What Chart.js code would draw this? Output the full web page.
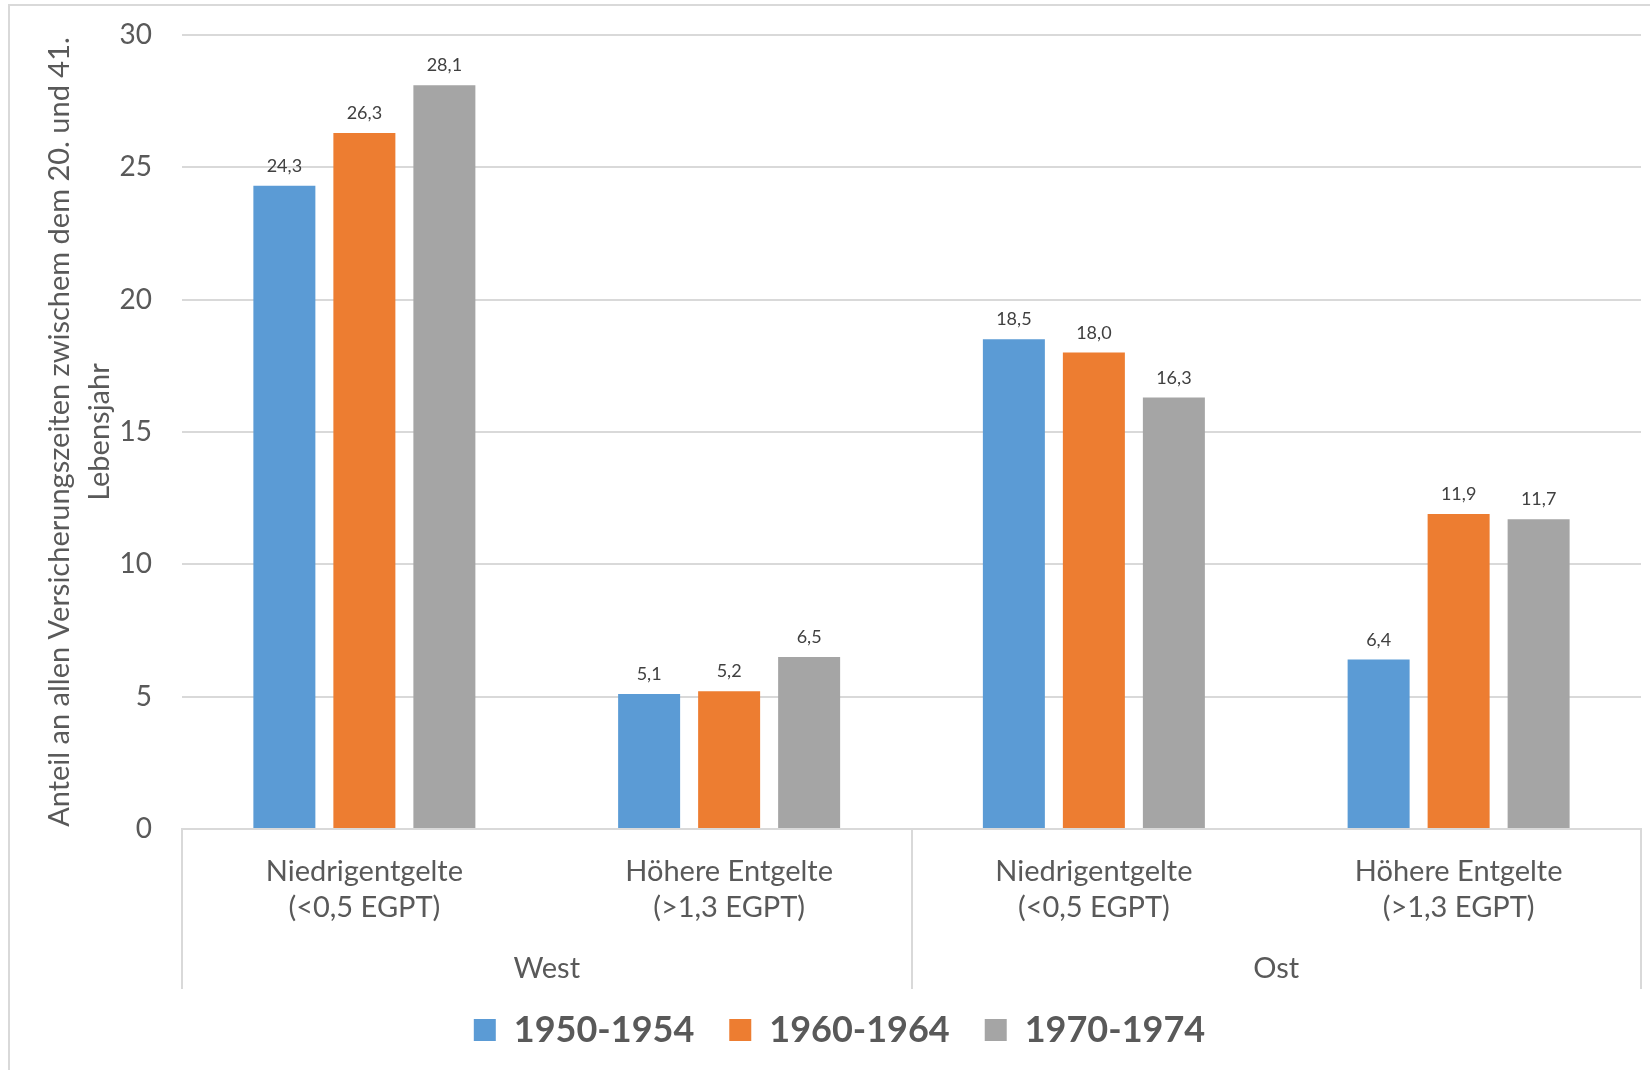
<!DOCTYPE html>
<html lang="de">
<head>
<meta charset="utf-8">
<title>Anteil an allen Versicherungszeiten</title>
<script src="https://cdn.jsdelivr.net/npm/chart.js@4/dist/chart.umd.min.js"></script>
<style>
  html, body { margin: 0; padding: 0; background: #ffffff; }
  #wrap { width: 1650px; height: 1070px; position: relative; }
</style>
</head>
<body>
<div id="wrap"><canvas id="chart" width="1650" height="1070"></canvas></div>
<script>
// Categories (inner level) and regions (outer level)
const categories = [
  ['Niedrigentgelte', '(<0,5 EGPT)'],
  ['Höhere Entgelte', '(>1,3 EGPT)'],
  ['Niedrigentgelte', '(<0,5 EGPT)'],
  ['Höhere Entgelte', '(>1,3 EGPT)']
];
const regions = ['West', 'Ost'];
// index range of categories belonging to each region
const regionSpans = [[0, 1], [2, 3]];

// Birth cohorts
const cohortLabels = ['1950-1954', '1960-1964', '1970-1974'];
const values1950 = [24.3, 5.1, 18.5, 6.4];
const values1960 = [26.3, 5.2, 18.0, 11.9];
const values1970 = [28.1, 6.5, 16.3, 11.7];

const yTicks = [0, 5, 10, 15, 20, 25, 30];
const yTitle = ['Anteil an allen Versicherungszeiten zwischem dem 20. und 41.', 'Lebensjahr'];

const colors = ['#5B9BD5', '#ED7D31', '#A5A5A5'];
const textGrey = '#595959';
const lineGrey = '#D9D9D9';
const FONT = 'Lato, "Open Sans", sans-serif';

// Thin frame around the whole figure
const framePlugin = {
  id: 'frame',
  beforeDraw(chart) {
    const ctx = chart.ctx;
    ctx.save();
    ctx.fillStyle = '#ffffff';
    ctx.fillRect(0, 0, chart.width, chart.height);
    ctx.strokeStyle = lineGrey;
    ctx.lineWidth = 2;
    ctx.strokeRect(9, 5, chart.width + 20, chart.height + 20);
    ctx.restore();
  }
};

// Second axis level: dividers between the regions and the region names
const regionAxisPlugin = {
  id: 'regionAxis',
  afterDraw(chart) {
    const x = chart.scales.x;
    const ctx = chart.ctx;
    const top = chart.chartArea.bottom;
    const bottom = top + 160;
    ctx.save();
    ctx.strokeStyle = lineGrey;
    ctx.lineWidth = 2;
    const edges = [regionSpans[0][0] - 0.5].concat(regionSpans.map(s => s[1] + 0.5));
    edges.forEach(v => {
      const px = Math.round(x.getPixelForValue(v));
      ctx.beginPath();
      ctx.moveTo(px, top);
      ctx.lineTo(px, bottom);
      ctx.stroke();
    });
    ctx.fillStyle = textGrey;
    ctx.font = '29px ' + FONT;
    ctx.textAlign = 'center';
    ctx.textBaseline = 'middle';
    regions.forEach((name, r) => {
      const [a, b] = regionSpans[r];
      const cx = (x.getPixelForValue(a - 0.5) + x.getPixelForValue(b + 0.5)) / 2;
      ctx.fillText(name, cx, top + 140);
    });
    ctx.restore();
  }
};

// Value labels above each bar, German decimal comma
const valueLabelPlugin = {
  id: 'valueLabels',
  afterDatasetsDraw(chart) {
    const ctx = chart.ctx;
    ctx.save();
    ctx.font = '18px ' + FONT;
    ctx.fillStyle = '#404040';
    ctx.textAlign = 'center';
    ctx.textBaseline = 'alphabetic';
    chart.data.datasets.forEach((ds, di) => {
      const meta = chart.getDatasetMeta(di);
      meta.data.forEach((bar, i) => {
        const txt = ds.data[i].toFixed(1).replace('.', ',');
        ctx.fillText(txt, bar.x, bar.y - 14);
      });
    });
    ctx.restore();
  }
};

new Chart(document.getElementById('chart'), {
  type: 'bar',
  data: {
    labels: categories,
    datasets: [
      { label: cohortLabels[0], data: values1950, backgroundColor: colors[0] },
      { label: cohortLabels[1], data: values1960, backgroundColor: colors[1] },
      { label: cohortLabels[2], data: values1970, backgroundColor: colors[2] }
    ]
  },
  options: {
    responsive: false,
    animation: false,
    devicePixelRatio: 1,
    categoryPercentage: 0.658,
    barPercentage: 0.775,
    layout: { padding: { top: 35, right: 9, bottom: 12, left: 38 } },
    plugins: {
      legend: {
        position: 'bottom',
        labels: {
          color: textGrey,
          font: { family: FONT, size: 36, weight: 'bold' },
          boxWidth: 22,
          boxHeight: 22,
          padding: 35
        }
      },
      tooltip: { enabled: false }
    },
    scales: {
      x: {
        type: 'category',
        position: 'bottom',
        grid: { display: false, drawTicks: false },
        border: { display: true, color: lineGrey, width: 2 },
        ticks: {
          color: textGrey,
          font: { family: FONT, size: 29, lineHeight: 1.24 },
          padding: 25,
          maxRotation: 0,
          autoSkip: false
        },
        // room below the category labels for the region row
        afterFit(scale) { scale.height = 148; }
      },
      y: {
        min: 0,
        max: 30,
        afterBuildTicks(scale) { scale.ticks = yTicks.map(v => ({ value: v })); },
        afterFit(scale) {
          scale.width = 144;
          scale.paddingTop = 12;
          scale.paddingBottom = 12;
        },
        grid: { color: lineGrey, lineWidth: 2, drawTicks: false },
        border: { display: false },
        ticks: {
          color: textGrey,
          font: { family: FONT, size: 28 },
          padding: 30
        },
        title: {
          display: true,
          text: yTitle,
          color: textGrey,
          font: { family: FONT, size: 29, lineHeight: 1.38 },
          padding: { top: 2, bottom: 2 }
        }
      }
    }
  },
  plugins: [framePlugin, regionAxisPlugin, valueLabelPlugin]
});
</script>
</body>
</html>
